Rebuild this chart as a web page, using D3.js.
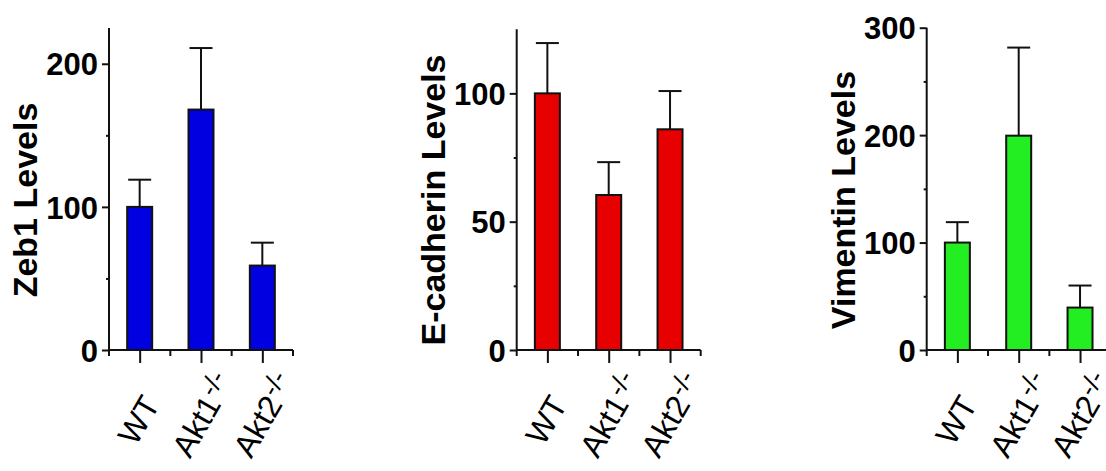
<!DOCTYPE html>
<html>
<head>
<meta charset="utf-8">
<script src="https://cdn.jsdelivr.net/npm/d3@7"></script>
<style>
  html, body { margin: 0; padding: 0; background: #fff; }
  svg { display: block; }
</style>
</head>
<body>
<svg id="chart" width="1106" height="471"></svg>
<script>
// ---- data ----
const categories = ["WT", "Akt1", "Akt2"];
const categorySup = ["", "-/-", "-/-"];

const zeb1Means  = [100, 168, 59];
const zeb1Errors = [19, 43, 16];
const zeb1Ticks  = [0, 100, 200];
const zeb1Minor  = [50, 150];

const ecadMeans  = [100, 60.4, 86];
const ecadErrors = [19.6, 12.8, 14.9];
const ecadTicks  = [0, 50, 100];
const ecadMinor  = [25, 75];

const vimMeans   = [100, 199.5, 39.5];
const vimErrors  = [19, 82, 20.5];
const vimTicks   = [0, 100, 200, 300];
const vimMinor   = [50, 150, 250];

const titles = ["Zeb1 Levels", "E-cadherin Levels", "Vimentin Levels"];

// ---- layout ----
const panels = [
  { title: titles[0], means: zeb1Means, errors: zeb1Errors, ticks: zeb1Ticks, minor: zeb1Minor,
    max: 225, left: 109, top: 28, color: "#0000e0" },
  { title: titles[1], means: ecadMeans, errors: ecadErrors, ticks: ecadTicks, minor: ecadMinor,
    max: 125, left: 516.7, top: 29.2, color: "#e60000" },
  { title: titles[2], means: vimMeans, errors: vimErrors, ticks: vimTicks, minor: vimMinor,
    max: 300, left: 926.7, top: 27.7, color: "#22ee22" }
];
const baseY = 350;
const axisW = 184;
const barW = 25;
const capW = 23;
const lw = 2;
const font = "'Liberation Sans', Arial, Helvetica, sans-serif";

const svg = d3.select("#chart");

panels.forEach(p => {
  const g = svg.append("g").attr("transform", `translate(${p.left},0)`);
  const y = d3.scaleLinear().domain([0, p.max]).range([baseY, p.top]);
  const x = d3.scalePoint().domain(categories).range([0, axisW]).padding(0.5);
  const step = x.step();

  // bars
  g.selectAll("rect.bar").data(p.means).join("rect")
    .attr("class", "bar")
    .attr("x", (d, i) => x(categories[i]) - barW / 2)
    .attr("y", d => y(d))
    .attr("width", barW)
    .attr("height", d => y(0) - y(d))
    .attr("fill", p.color)
    .attr("stroke", "#111")
    .attr("stroke-width", lw);

  // error bars (upper only)
  g.selectAll("line.err").data(p.means).join("line")
    .attr("class", "err")
    .attr("x1", (d, i) => x(categories[i]))
    .attr("x2", (d, i) => x(categories[i]))
    .attr("y1", d => y(d))
    .attr("y2", (d, i) => y(d + p.errors[i]))
    .attr("stroke", "#111").attr("stroke-width", lw);
  g.selectAll("line.cap").data(p.means).join("line")
    .attr("class", "cap")
    .attr("x1", (d, i) => x(categories[i]) - capW / 2)
    .attr("x2", (d, i) => x(categories[i]) + capW / 2)
    .attr("y1", (d, i) => y(d + p.errors[i]))
    .attr("y2", (d, i) => y(d + p.errors[i]))
    .attr("stroke", "#111").attr("stroke-width", lw);

  // y axis (major)
  const yAxis = d3.axisLeft(y).tickValues(p.ticks).tickSize(7).tickPadding(4).tickSizeOuter(0);
  const ya = g.append("g").call(yAxis);
  ya.select(".domain").remove();
  ya.selectAll(".tick line").attr("stroke", "#111").attr("stroke-width", lw);
  ya.selectAll(".tick text")
    .attr("font-family", font).attr("font-weight", "bold").attr("font-size", 31)
    .attr("fill", "#000").attr("dy", "0.36em");
  // y minor
  const yMinor = d3.axisLeft(y).tickValues(p.minor).tickSize(3).tickFormat("");
  const ym = g.append("g").call(yMinor);
  ym.select(".domain").remove();
  ym.selectAll(".tick line").attr("stroke", "#111").attr("stroke-width", lw);
  // y axis line
  g.append("line").attr("x1", 0).attr("x2", 0).attr("y1", y(0)).attr("y2", y(p.max))
    .attr("stroke", "#111").attr("stroke-width", lw);

  // x axis line
  g.append("line").attr("x1", 0).attr("x2", axisW).attr("y1", y(0)).attr("y2", y(0))
    .attr("stroke", "#111").attr("stroke-width", lw);
  // x major ticks
  const xAxis = d3.axisBottom(x).tickSize(13).tickFormat("");
  const xa = g.append("g").attr("transform", `translate(0,${y(0)})`).call(xAxis);
  xa.select(".domain").remove();
  xa.selectAll(".tick line").attr("stroke", "#111").attr("stroke-width", lw);
  // x minor ticks at category boundaries
  const bounds = d3.range(categories.length + 1).map(i => i * step);
  g.selectAll("line.xminor").data(bounds).join("line")
    .attr("class", "xminor")
    .attr("x1", d => d).attr("x2", d => d)
    .attr("y1", y(0)).attr("y2", y(0) + 6)
    .attr("stroke", "#111").attr("stroke-width", lw);

  // x labels: main text ends at anchor, superscript continues beyond
  categories.forEach((c, i) => {
    const tr = `translate(${x(c) + 21},${y(0) + 54}) rotate(-60)`;
    g.append("text")
      .attr("transform", tr)
      .attr("text-anchor", "end")
      .attr("font-family", font)
      .attr("font-size", 32).attr("fill", "#000")
      .text(c);
    if (categorySup[i]) {
      g.append("text")
        .attr("transform", tr)
        .attr("text-anchor", "start")
        .attr("x", 1).attr("y", -10)
        .attr("font-family", font)
        .attr("font-size", 26).attr("fill", "#000")
        .text(categorySup[i]);
    }
  });

  // y title
  g.append("text")
    .attr("transform", `translate(-72,${200}) rotate(-90)`)
    .attr("text-anchor", "middle")
    .attr("font-family", font).attr("font-weight", "bold").attr("font-size", 34)
    .attr("fill", "#000")
    .text(p.title);
});
</script>
</body>
</html>
